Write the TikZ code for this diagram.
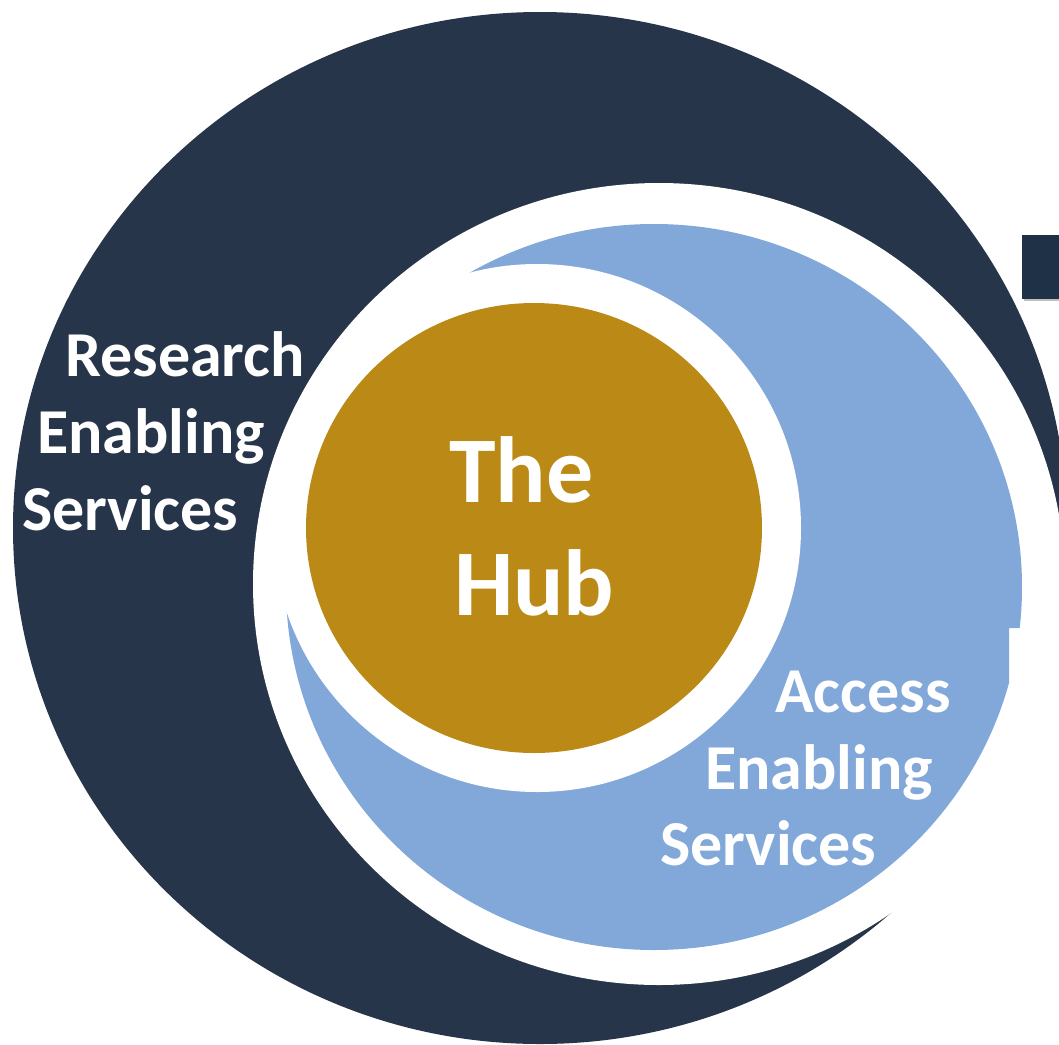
\documentclass[tikz,border=0pt]{standalone}
\usepackage{fontspec}
\setmainfont{Carlito}
\definecolor{navy}{HTML}{26354A}
\definecolor{lblue}{HTML}{82A8D9}
\definecolor{gold}{HTML}{BB8916}
\definecolor{boxc}{HTML}{1F3147}
\begin{document}
\begin{tikzpicture}[x=1pt,y=-1pt,
  lbl/.style={anchor=base west, inner sep=0pt, text=white, font=\fontsize{64}{64}\selectfont\bfseries},
  hublbl/.style={anchor=base west, inner sep=0pt, text=white, font=\fontsize{94}{94}\selectfont\bfseries}]
\useasboundingbox (0,0) rectangle (1059,1044);
\clip (0,0) rectangle (1059,1044);
% outer dark crescent
\fill[navy] (540,528) ellipse [x radius=527pt, y radius=516pt];
\fill[white] (659,584) ellipse [x radius=406pt, y radius=401pt];
% light blue crescent
\begin{scope}
  \clip (0,0) -- (1022,0) -- (1022,628) -- (1009,628) -- (1009,1044) -- (0,1044) -- cycle;
  \fill[lblue] (654,587) ellipse [x radius=368pt, y radius=363pt];
\end{scope}
\fill[white] (537,528) circle [radius=264pt];
% hub
\fill[gold] (534,528) ellipse [x radius=228pt, y radius=225pt];
% small box at right edge
\fill[black!25] (1024,237) rectangle (1059,301);
\fill[boxc] (1022,235) rectangle (1059,299);
% labels
\node[lbl] (res1) at (65,376) {Research};
\node[lbl] (res2) at (37,453) {Enabling};
\node[lbl] (res3) at (22,530) {Services};
\node[hublbl] (hub1) at (449,502) {The};
\node[hublbl] (hub2) at (454,615) {Hub};
\node[lbl] (acc1) at (775,712) {Access};
\node[lbl] (acc2) at (705,789) {Enabling};
\node[lbl] (acc3) at (660,865) {Services};
\end{tikzpicture}
\end{document}
